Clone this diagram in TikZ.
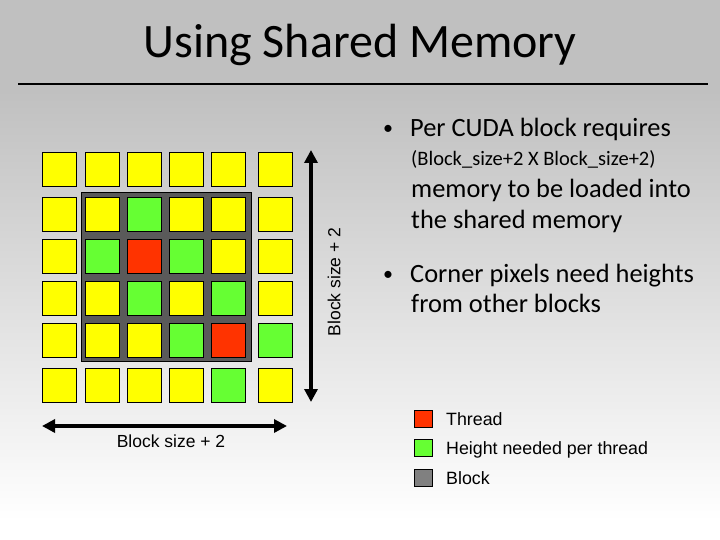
\documentclass[tikz,border=0pt]{standalone}
\usepackage{fontspec}
\setmainfont{Carlito}
\newfontfamily\arialfont{Liberation Sans}
\usetikzlibrary{arrows.meta}
\definecolor{cyel}{HTML}{FFFF00}
\definecolor{cgrn}{HTML}{66FF33}
\definecolor{cred}{HTML}{FF3300}
\definecolor{cblk}{HTML}{5A5A5A}
\definecolor{clgr}{HTML}{808080}
\definecolor{cbgtop}{HTML}{C0C0C0}
\tikzset{
  cell/.style={draw=black, line width=0.8pt, minimum width=34pt, minimum height=34pt, inner sep=0pt, anchor=north west},
  legsq/.style={draw=black, line width=0.8pt, minimum width=18pt, minimum height=17pt, inner sep=0pt},
  bigarrow/.style={line width=4pt, {Triangle[length=13pt,width=13pt]}-{Triangle[length=13pt,width=13pt]}},
  body/.style={font=\fontsize{26.4}{30}\selectfont, anchor=base west, inner sep=0pt},
  bul/.style={font=\fontsize{20}{24}\selectfont, anchor=base, inner sep=0pt},
  legtext/.style={font=\arialfont\fontsize{17.8}{20}\selectfont, anchor=base west, inner sep=0pt},
  dimtext/.style={font=\arialfont\fontsize{17.5}{20}\selectfont, inner sep=0pt},
}
\begin{document}
\begin{tikzpicture}[x=1pt,y=-1pt]
\useasboundingbox (0,0) rectangle (720,540);
\fill[cbgtop] (0,0) rectangle (720,91);
\shade[top color=cbgtop, bottom color=white] (0,90) rectangle (720,521);
\fill[white] (0,520) rectangle (720,540);
% title
\node[font=\fontsize{48}{56}\selectfont, anchor=base, inner sep=0pt] (title) at (360,58) {Using Shared Memory};
\coordinate (rl) at (18,84);
\coordinate (rr) at (708,84);
\draw[line width=2pt] (rl) -- (rr);
% block background
\node[draw=black, line width=0.8pt, fill=cblk, minimum width=170pt, minimum height=169pt, inner sep=0pt, anchor=north west] (blk) at (81,192) {};
% grid cells
\def\colx{{42,85,127,169,211,258}}
\def\rowy{{152,197,239,281,323,368}}
\foreach \r/\rowcols in {0/{cyel,cyel,cyel,cyel,cyel,cyel},
                         1/{cyel,cyel,cgrn,cyel,cyel,cyel},
                         2/{cyel,cgrn,cred,cgrn,cyel,cyel},
                         3/{cyel,cyel,cgrn,cyel,cgrn,cyel},
                         4/{cyel,cyel,cyel,cgrn,cred,cgrn},
                         5/{cyel,cyel,cyel,cyel,cgrn,cyel}}{
  \foreach \col [count=\c from 0] in \rowcols {
    \pgfmathsetmacro{\xx}{\colx[\c]}
    \pgfmathsetmacro{\yy}{\rowy[\r]}
    \node[cell, fill=\col] (s-\r-\c) at (\xx,\yy) {};
  }
}
% vertical arrow
\coordinate (vt) at (311,150);
\coordinate (vb) at (311,402);
\draw[bigarrow] (vb) -- (vt);
\node[dimtext, rotate=90] (vlab) at (334,282) {Block size + 2};
% horizontal arrow
\coordinate (hl) at (42,426);
\coordinate (hr) at (287,426);
\draw[bigarrow] (hl) -- (hr);
\node[dimtext, anchor=base] (hlab) at (171,447) {Block size + 2};
% bullet text
\node[bul] (b1) at (388,135) {\textbullet};
\node[body] (t1) at (410,137) {Per CUDA block requires};
\node[font=\fontsize{20.5}{24}\selectfont, anchor=base west, inner sep=0pt] (t2) at (411,166) {(Block\_size+2 X Block\_size+2)};
\node[body] (t3) at (411,198) {memory to be loaded into};
\node[body] (t4) at (411,229) {the shared memory};
\node[bul] (b2) at (388,280) {\textbullet};
\node[body] (t5) at (410,282) {Corner pixels need heights};
\node[body] (t6) at (411,312) {from other blocks};
% legend
\node[legsq, fill=cred] (l1) at (423,418.5) {};
\node[legsq, fill=cgrn] (l2) at (423,448) {};
\node[legsq, fill=clgr] (l3) at (423,478) {};
\node[legtext] (lt1) at (446,425) {Thread};
\node[legtext] (lt2) at (446,454) {Height needed per thread};
\node[legtext] (lt3) at (446,484) {Block};
\end{tikzpicture}
\end{document}
